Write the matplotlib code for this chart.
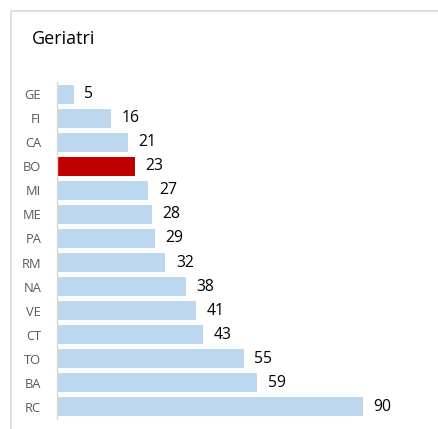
import matplotlib
matplotlib.use("Agg")
import matplotlib.pyplot as plt
from matplotlib.patches import Rectangle

categories = ["GE", "FI", "CA", "BO", "MI", "ME", "PA", "RM", "NA", "VE", "CT", "TO", "BA", "RC"]
values = [5, 16, 21, 23, 27, 28, 29, 32, 38, 41, 43, 55, 59, 90]
highlight = "BO"

W, H = 439, 429
fig = plt.figure(figsize=(W / 100, H / 100), dpi=100)
plt.rcParams['font.family'] = ['Open Sans', 'DejaVu Sans']

# chart border (partially outside figure)
fig.patches.append(Rectangle((11 / W, -0.1), 1.2, 1 - 10.5 / H + 0.1,
                             transform=fig.transFigure, fill=False,
                             edgecolor="#D9D9D9", lw=1.2))

ax_left = 56.5 / W
ax_top = 82 / H
ax_bot = 419 / H
ax = fig.add_axes([ax_left, 1 - ax_bot, (57 + 3.4 * 110) / W - ax_left, ax_bot - ax_top])

colors = ["#C00000" if c == highlight else "#BDD7EE" for c in categories]
pos = list(range(len(categories)))
ax.barh(pos, values, height=0.79, color=colors)
ax.set_ylim(len(categories) - 0.5, -0.5)
ax.set_xlim(0, 110)
ax.set_yticks(pos)
ax.set_yticklabels(categories, fontsize=9.3, color="#595959")
ax.tick_params(axis="y", length=0, pad=11)
ax.set_xticks([])
for s in ["top", "right", "bottom"]:
    ax.spines[s].set_visible(False)
ax.spines["left"].set_color("#D9D9D9")
ax.spines["left"].set_linewidth(1)

for p, v in zip(pos, values):
    ax.annotate(str(v), (v, p), xytext=(7.5, 0), textcoords="offset points",
                va="center", ha="left", fontsize=11.3, color="#000000")

fig.text(32 / W, 1 - 38.5 / H, "Geriatri", fontsize=13, va="center", ha="left", color="#000000")

fig.savefig("out.png", dpi=100, facecolor="white")
